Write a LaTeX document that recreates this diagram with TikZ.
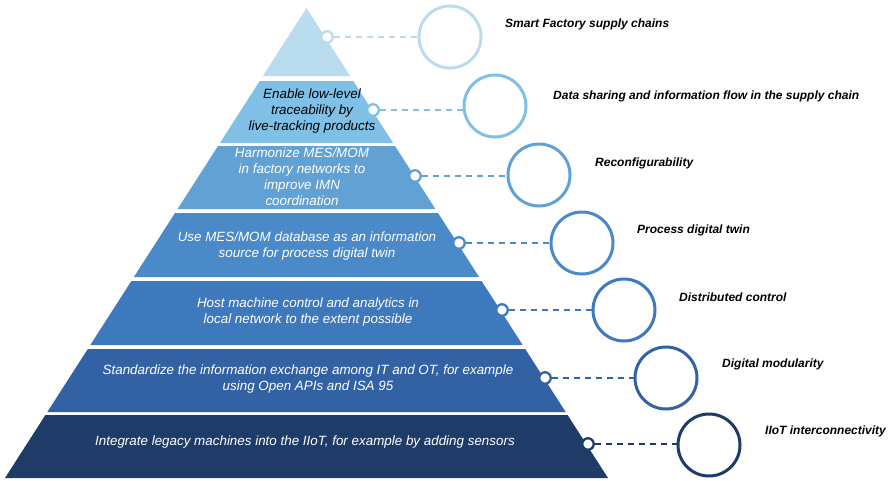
\documentclass[tikz,border=0pt]{standalone}
\usepackage{fontspec}
\setmainfont{Liberation Sans}
\definecolor{lay1}{RGB}{185,220,238}
\definecolor{lay2}{RGB}{128,192,231}
\definecolor{lay3}{RGB}{97,161,212}
\definecolor{lay4}{RGB}{75,138,201}
\definecolor{lay5}{RGB}{62,120,189}
\definecolor{lay6}{RGB}{50,98,164}
\definecolor{lay7}{RGB}{31,60,104}
\begin{document}
\begin{tikzpicture}[x=1pt, y=-1pt,
        layertext/.style={align=center,text=white,inner sep=0pt,
      font=\fontsize{13.4}{16}\selectfont\itshape},
        marker/.style={circle,inner sep=0pt,minimum size=11.5pt,draw,
      line width=2.3pt,fill=white},
        ring/.style={circle,inner sep=0pt,minimum size=62pt,draw,line width=3pt},
        link/.style={line width=1.3pt,dash pattern=on 6pt off 5pt},
        caption/.style={anchor=west,inner sep=0pt,
      font=\fontsize{12}{14}\selectfont\bfseries\itshape}]
    \useasboundingbox (0,0) rectangle (891,480);

	\fill [lay1] (306.5,8) -- (350.1,76) -- (262.9,76) -- cycle;
	\fill [lay2] (259.7,81) -- (353.3,81) -- (393.1,143) -- (219.9,143) -- cycle;
	\fill [lay3] (218,146) -- (395,146) -- (435.4,209) -- (177.6,209) -- cycle;
	\fill [lay4] (175,213) -- (438,213) -- (479.1,277) -- (133.9,277) -- cycle;
	\fill [lay5] (131.4,281) -- (481.6,281) -- (522.7,345) -- (90.3,345) -- cycle;
	\fill [lay6] (87.8,349) -- (525.2,349) -- (565.7,412) -- (47.3,412) -- cycle;
	\fill [lay7] (45.4,415) -- (567.6,415) -- (608,478) -- (5,478) -- cycle;

	\node [layertext,text=black] (t2) at (312, 111) {Enable low-level\\traceability by\\live-tracking products};
	\node [layertext] (t3) at (302, 177) {Harmonize MES/MOM\\in factory networks to\\improve IMN\\coordination};
	\node [layertext] (t4) at (307, 246) {Use MES/MOM database as an information\\source for process digital twin};
	\node [layertext] (t5) at (308, 312) {Host machine control and analytics in\\local network to the extent possible};
	\node [layertext] (t6) at (308, 379) {Standardize the information exchange among IT and OT, for example\\using Open APIs and ISA 95};
	\node [layertext] (t7) at (305, 442) {Integrate legacy machines into the IIoT, for example by adding sensors};

	\node [marker,draw=lay1] (m1) at (327, 37)  {};
	\node [marker,draw=lay2] (m2) at (373, 110) {};
	\node [marker,draw=lay3] (m3) at (415, 176) {};
	\node [marker,draw=lay4] (m4) at (459, 243) {};
	\node [marker,draw=lay5] (m5) at (502, 310) {};
	\node [marker,draw=lay6] (m6) at (545, 378) {};
	\node [marker,draw=lay7] (m7) at (588, 444) {};

	\node [ring,draw=lay1] (r1) at (450, 37)  {};
	\node [ring,draw=lay2] (r2) at (495, 106) {};
	\node [ring,draw=lay3] (r3) at (539, 175) {};
	\node [ring,draw=lay4] (r4) at (582, 243) {};
	\node [ring,draw=lay5] (r5) at (624, 310) {};
	\node [ring,draw=lay6] (r6) at (666, 378) {};
	\node [ring,draw=lay7] (r7) at (709, 445) {};

        \path [link,draw=lay1] (m1) edge (m1 -| r1.west);
        \path [link,draw=lay2] (m2) edge (m2 -| r2.west);
        \path [link,draw=lay3] (m3) edge (m3 -| r3.west);
        \path [link,draw=lay4] (m4) edge (m4 -| r4.west);
        \path [link,draw=lay5] (m5) edge (m5 -| r5.west);
        \path [link,draw=lay6] (m6) edge (m6 -| r6.west);
        \path [link,draw=lay7] (m7) edge (m7 -| r7.west);

	\node [caption] (l1) at (505, 24)  {Smart Factory supply chains};
	\node [caption] (l2) at (553, 96)  {Data sharing and information flow in the supply chain};
	\node [caption] (l3) at (595, 163) {Reconfigurability};
	\node [caption] (l4) at (637, 230) {Process digital twin};
	\node [caption] (l5) at (679, 297) {Distributed control};
	\node [caption] (l6) at (722, 364) {Digital modularity};
	\node [caption] (l7) at (765, 431) {IIoT interconnectivity};
\end{tikzpicture}
\end{document}
